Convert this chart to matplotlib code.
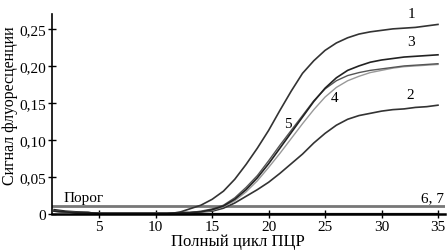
import numpy as np
import matplotlib.pyplot as plt

plt.rcParams['font.family'] = ['Liberation Serif', 'DejaVu Serif']

cycles = np.arange(1, 36)

base = [0.004, 0.003, 0.002, 0.002, 0.001, 0.001, 0.001, 0.001, 0.001, 0.001, 0.001, 0.002]

curve1 = base + [0.007, 0.012, 0.020, 0.031, 0.047, 0.067, 0.089, 0.113, 0.140, 0.166,
                 0.190, 0.207, 0.221, 0.231, 0.238, 0.243, 0.246, 0.248, 0.250, 0.251,
                 0.252, 0.254, 0.256]
curve2 = base + [0.002, 0.003, 0.004, 0.008, 0.015, 0.024, 0.033, 0.043, 0.055, 0.068,
                 0.081, 0.096, 0.109, 0.120, 0.128, 0.133, 0.136, 0.139, 0.141, 0.142,
                 0.144, 0.145, 0.147]
curve3 = base + [0.002, 0.003, 0.006, 0.011, 0.020, 0.033, 0.049, 0.068, 0.089, 0.110,
                 0.131, 0.152, 0.170, 0.184, 0.194, 0.200, 0.205, 0.208, 0.210, 0.212,
                 0.213, 0.214, 0.215]
curve4 = base + [0.002, 0.003, 0.005, 0.010, 0.018, 0.030, 0.045, 0.063, 0.082, 0.102,
                 0.122, 0.141, 0.158, 0.171, 0.180, 0.186, 0.191, 0.194, 0.197, 0.199,
                 0.200, 0.201, 0.202]
curve5 = base + [0.002, 0.004, 0.007, 0.012, 0.022, 0.036, 0.052, 0.072, 0.093, 0.113,
                 0.133, 0.153, 0.169, 0.180, 0.187, 0.191, 0.194, 0.196, 0.198, 0.200,
                 0.201, 0.202, 0.203]
curve67 = [0.006, 0.004, 0.003, 0.002, 0.001] + [0.0005] * 30
threshold = 0.011

labels = [('1', 32.3, 0.262), ('3', 32.3, 0.224), ('2', 32.2, 0.153),
          ('4', 25.5, 0.148), ('5', 21.4, 0.113), ('6, 7', 33.5, 0.014)]

fig = plt.figure(figsize=(4.47, 2.51), dpi=100)
ax = fig.add_axes([0.116, 0.143, 0.879, 0.797])

ax.axhline(threshold, color='#777777', lw=2)
ax.plot(cycles, curve67, color='#222222', lw=1.2)
ax.plot(cycles, curve2, color='#333333', lw=1.2)
ax.plot(cycles, curve1, color='#333333', lw=1.2)
ax.plot(cycles, curve4, color='#999999', lw=1.0)
ax.plot(cycles, curve5, color='#555555', lw=1.0)
ax.plot(cycles, curve3, color='#222222', lw=1.2)

for txt, x, y in labels:
    ax.text(x, y, txt, fontsize=11, ha='left', va='bottom')
ax.text(1.8, 0.013, 'Порог', fontsize=11, va='bottom')

ax.set_xlim(0.8, 35.6)
ax.set_ylim(0, 0.27)
ax.set_xticks([5, 10, 15, 20, 25, 30, 35])
ax.set_yticks([0, 0.05, 0.10, 0.15, 0.20, 0.25])
ax.set_yticklabels(['0', '0,05', '0,10', '0,15', '0,20', '0,25'])
ax.tick_params(labelsize=11, direction='inout', length=6, width=1, pad=1)
ax.spines['top'].set_visible(False)
ax.spines['right'].set_visible(False)
ax.spines['bottom'].set_linewidth(1.8)
ax.spines['left'].set_linewidth(1.2)
ax.set_xlabel('Полный цикл ПЦР', fontsize=12, labelpad=0, x=0.473)
ax.set_ylabel('Сигнал флуоресценции', fontsize=11.5, labelpad=1, y=0.545)

plt.savefig('out.png', dpi=100)
plt.close()
